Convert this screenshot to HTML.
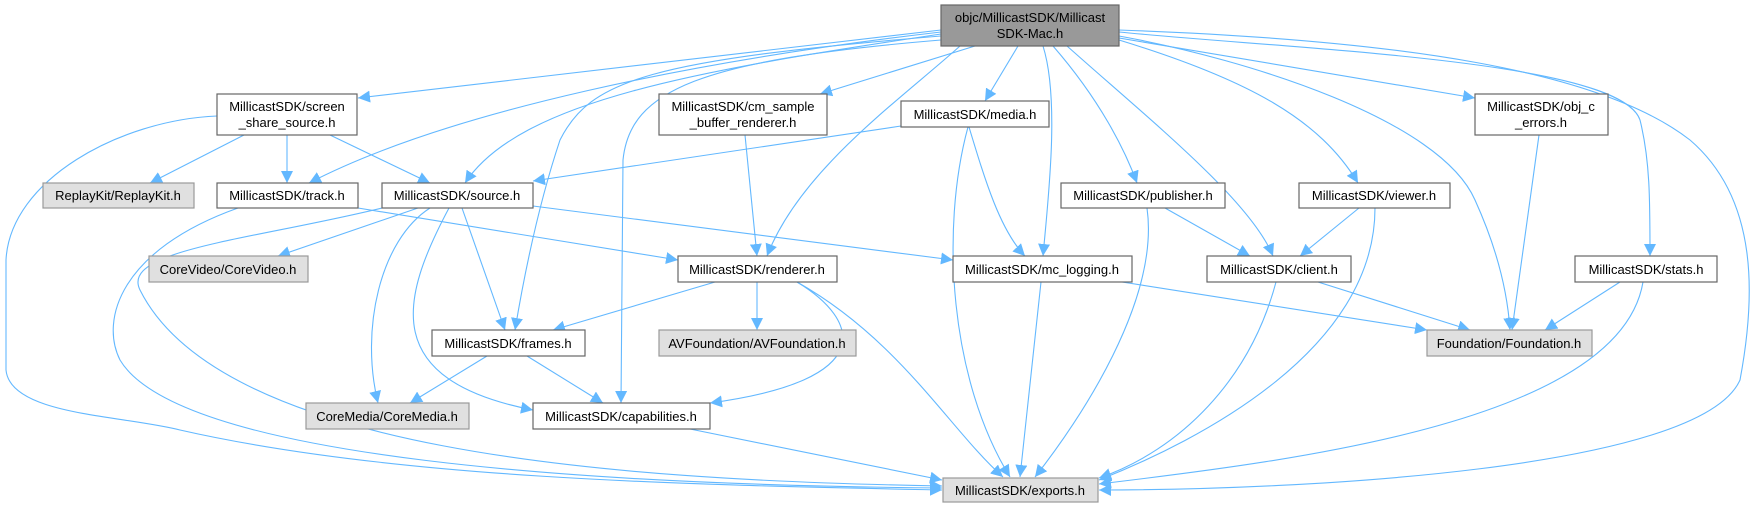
<!DOCTYPE html>
<html><head><meta charset="utf-8"><style>
html,body{margin:0;padding:0;background:#fff;}
svg{display:block;}
text{font-family:"Liberation Sans",Helvetica,Arial,sans-serif;font-size:13px;fill:#000;text-anchor:middle;}
.n{fill:#fff;stroke:#666;stroke-width:1.2;}
.g{fill:#e0e0e0;stroke:#999;stroke-width:1.2;}
.r{fill:#999;stroke:#666;stroke-width:1.2;}
path.e{fill:none;stroke:#63b8ff;stroke-width:1.1;marker-end:url(#a);}
</style></head><body>
<svg width="1757" height="508" viewBox="0 0 1757 508" xmlns="http://www.w3.org/2000/svg">
<defs><marker id="a" markerUnits="userSpaceOnUse" markerWidth="12" markerHeight="12" refX="10" refY="5" orient="auto" viewBox="0 0 10 10"><path d="M0,0 L10,5 L0,10 z" fill="#63b8ff"/></marker></defs>
<g>
<path class="e" d="M941,30 L358,98"/>
<path class="e" d="M941,32 C700,60 450,110 309,183"/>
<path class="e" d="M941,34 C700,70 520,100 465,183"/>
<path class="e" d="M941,36 C650,60 590,80 560,140 C540,200 525,270 515,330"/>
<path class="e" d="M941,40 C700,60 630,90 623,160 L621,403"/>
<path class="e" d="M975,46 L820,94"/>
<path class="e" d="M960,46 C900,100 800,170 767,256"/>
<path class="e" d="M1018,46 L985,101"/>
<path class="e" d="M1043,46 C1060,100 1048,200 1043,256"/>
<path class="e" d="M1053,46 C1100,100 1125,150 1137,183"/>
<path class="e" d="M1067,46 C1150,120 1250,200 1273,256"/>
<path class="e" d="M1119,40 C1250,80 1320,120 1358,183"/>
<path class="e" d="M1119,36 C1250,60 1440,120 1475,200 C1500,255 1508,300 1510,330"/>
<path class="e" d="M1119,38 L1475,98"/>
<path class="e" d="M1119,32 C1300,50 1620,60 1640,120 C1650,160 1650,200 1650,256"/>
<path class="e" d="M1119,30 C1400,40 1600,70 1690,140 C1760,200 1755,300 1740,380 C1700,470 1300,490 1099,490"/>
<path class="e" d="M244,135 L150,183"/>
<path class="e" d="M287,135 L287,183"/>
<path class="e" d="M330,135 L430,183"/>
<path class="e" d="M217,116 C120,120 10,180 6,260 L6,370 C10,415 120,415 180,430 C400,480 700,485 942,490"/>
<path class="e" d="M745,135 L757,256"/>
<path class="e" d="M901,126 L533,181"/>
<path class="e" d="M969,127 C985,180 1000,230 1025,256"/>
<path class="e" d="M968,127 C940,230 950,380 1010,477"/>
<path class="e" d="M358,208 L678,260"/>
<path class="e" d="M238,208 C120,250 100,320 120,360 C180,460 600,485 942,488"/>
<path class="e" d="M418,208 L278,256"/>
<path class="e" d="M462,208 L505,330"/>
<path class="e" d="M430,208 C380,240 360,330 378,403"/>
<path class="e" d="M449,208 C400,300 380,380 533,410"/>
<path class="e" d="M533,206 L953,260"/>
<path class="e" d="M382,208 C250,240 120,250 140,290 C220,450 600,480 942,486"/>
<path class="e" d="M715,282 L553,330"/>
<path class="e" d="M757,282 L757,330"/>
<path class="e" d="M797,282 C860,320 880,380 710,403"/>
<path class="e" d="M797,282 C900,340 950,430 1003,477"/>
<path class="e" d="M487,356 L410,403"/>
<path class="e" d="M527,356 L603,403"/>
<path class="e" d="M690,429 L942,480"/>
<path class="e" d="M1165,208 L1250,256"/>
<path class="e" d="M1147,208 C1160,300 1080,420 1035,477"/>
<path class="e" d="M1359,208 L1300,256"/>
<path class="e" d="M1375,208 C1375,350 1200,440 1099,480"/>
<path class="e" d="M1122,282 L1427,330"/>
<path class="e" d="M1041,282 L1020,477"/>
<path class="e" d="M1318,282 L1470,330"/>
<path class="e" d="M1276,282 C1250,380 1180,450 1099,478"/>
<path class="e" d="M1539,135 L1512,330"/>
<path class="e" d="M1620,282 L1545,330"/>
<path class="e" d="M1643,282 C1620,420 1300,460 1099,484"/>
</g>
<g>
<rect class="r" x="941" y="5" width="178" height="41"/>
<text x="1030" y="22">objc/MillicastSDK/Millicast</text><text x="1030" y="38">SDK-Mac.h</text>
<rect class="n" x="217" y="94" width="140" height="41"/>
<text x="287" y="111">MillicastSDK/screen</text><text x="287" y="127">_share_source.h</text>
<rect class="n" x="659" y="94" width="168" height="41"/>
<text x="743" y="111">MillicastSDK/cm_sample</text><text x="743" y="127">_buffer_renderer.h</text>
<rect class="n" x="901" y="101" width="148" height="26"/>
<text x="975" y="119">MillicastSDK/media.h</text>
<rect class="n" x="1475" y="94" width="133" height="41"/>
<text x="1541" y="111">MillicastSDK/obj_c</text><text x="1541" y="127">_errors.h</text>
<rect class="g" x="43" y="183" width="151" height="25"/>
<text x="118" y="200">ReplayKit/ReplayKit.h</text>
<rect class="n" x="217" y="183" width="141" height="25"/>
<text x="287" y="200">MillicastSDK/track.h</text>
<rect class="n" x="382" y="183" width="151" height="25"/>
<text x="457" y="200">MillicastSDK/source.h</text>
<rect class="n" x="1061" y="183" width="164" height="25"/>
<text x="1143" y="200">MillicastSDK/publisher.h</text>
<rect class="n" x="1299" y="183" width="151" height="25"/>
<text x="1374" y="200">MillicastSDK/viewer.h</text>
<rect class="g" x="149" y="256" width="159" height="26"/>
<text x="228" y="274">CoreVideo/CoreVideo.h</text>
<rect class="n" x="678" y="256" width="159" height="26"/>
<text x="757" y="274">MillicastSDK/renderer.h</text>
<rect class="n" x="953" y="256" width="179" height="26"/>
<text x="1042" y="274">MillicastSDK/mc_logging.h</text>
<rect class="n" x="1207" y="256" width="144" height="26"/>
<text x="1279" y="274">MillicastSDK/client.h</text>
<rect class="n" x="1575" y="256" width="142" height="26"/>
<text x="1646" y="274">MillicastSDK/stats.h</text>
<rect class="n" x="432" y="330" width="153" height="26"/>
<text x="508" y="348">MillicastSDK/frames.h</text>
<rect class="g" x="659" y="330" width="197" height="26"/>
<text x="757" y="348">AVFoundation/AVFoundation.h</text>
<rect class="g" x="1427" y="330" width="165" height="26"/>
<text x="1509" y="348">Foundation/Foundation.h</text>
<rect class="g" x="306" y="403" width="163" height="26"/>
<text x="387" y="421">CoreMedia/CoreMedia.h</text>
<rect class="n" x="533" y="403" width="177" height="26"/>
<text x="621" y="421">MillicastSDK/capabilities.h</text>
<rect class="g" x="943" y="478" width="155" height="24"/>
<text x="1020" y="495">MillicastSDK/exports.h</text>
</g>
</svg>
</body></html>
